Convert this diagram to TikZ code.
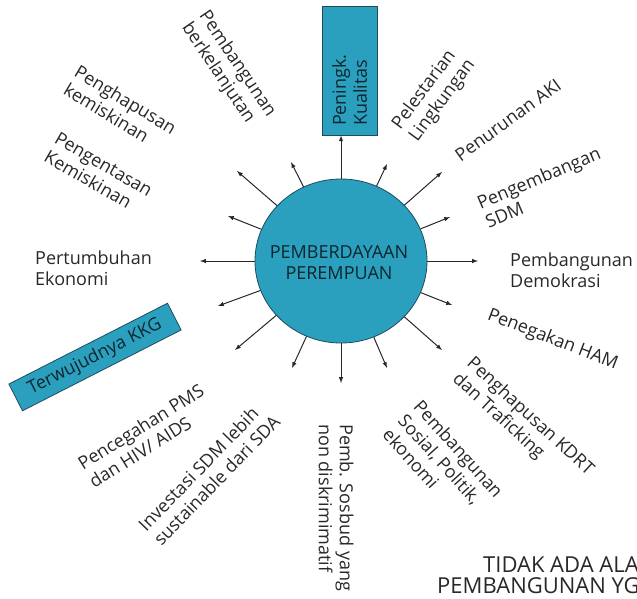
\documentclass[tikz,border=0pt]{standalone}
\usepackage{fontspec}
\setmainfont{Open Sans}
\usetikzlibrary{shapes.geometric}
\definecolor{tosca}{RGB}{43,160,190}
\definecolor{tepi}{RGB}{30,75,95}
\definecolor{tinta}{RGB}{40,40,40}

\begin{document}
\begin{tikzpicture}[x=1pt,y=-1pt,
    lbl/.style={text=tinta, inner sep=0pt, align=left, anchor=west,
      font=\fontsize{18}{21}\selectfont},
    arr/.style={-latex, draw=tinta, line width=1pt},
    kotak/.style={draw=tepi, fill=tosca, line width=0.8pt}]
\useasboundingbox (0,0) rectangle (637,599);
\clip (0,0) rectangle (637,599);

% pusat
\node[ellipse, kotak, minimum width=172pt, minimum height=164pt] (pp) at (341,261) {};
\node[align=center, text=tepi!50!black, font=\fontsize{18}{21}\selectfont] (ppt) at (339,263) {PEMBERDAYAAN\\PEREMPUAN};

% kotak atas
\node[kotak, rotate=90, minimum width=129pt, minimum height=55pt, text width=111pt,
  inner xsep=9pt, inner ysep=3pt, align=left, text=tepi!50!black,
  font=\fontsize{18}{21}\selectfont] (pk) at (349.5,70.5) {Peningk.\\Kualitas};
\draw[arr] (pp.north) -- (pp.north |- pk.west);

% kotak kiri
\node[kotak, rotate=27, minimum width=178pt, minimum height=30pt, inner sep=2pt,
  text=tepi!50!black, font=\fontsize{18}{21}\selectfont] (kkg) at (95,357) {Terwujudnya KKG};

% ujung panah
\coordinate (t1) at (387,164);
\coordinate (t2) at (442,172);
\coordinate (t3) at (450,217);
\coordinate (t4) at (478,261);
\coordinate (t5) at (452,305);
\coordinate (t6) at (442,350);
\coordinate (t7) at (387,368);
\coordinate (t8) at (341,383);
\coordinate (t9) at (292,368);
\coordinate (t10) at (235,350);
\coordinate (t11) at (218,306);
\coordinate (t12) at (200,261);
\coordinate (t13) at (228,216);
\coordinate (t14) at (237,171);
\coordinate (t15) at (291,162);

\draw[arr] (pp) -- (t1);
\draw[arr] (pp) -- (t2);
\draw[arr] (pp) -- (t3);
\draw[arr] (pp) -- (t4);
\draw[arr] (pp) -- (t5);
\draw[arr] (pp) -- (t6);
\draw[arr] (pp) -- (t7);
\draw[arr] (pp) -- (t8);
\draw[arr] (pp) -- (t9);
\draw[arr] (pp) -- (t10);
\draw[arr] (pp) -- (t11);
\draw[arr] (pp) -- (t12);
\draw[arr] (pp) -- (t13);
\draw[arr] (pp) -- (t14);
\draw[arr] (pp) -- (t15);

% label kiri atas
\node[lbl, rotate=-56] (bkl) at (194,19) {Pembangunan\\berkelanjutan};
\node[lbl, rotate=-31] (hpk) at (71,79) {Penghapusan\\kemiskinan};
\node[lbl, rotate=-30] (etk) at (51,146) {Pengentasan\\Kemiskinan};
\node[lbl] (tbe) at (35,268) {Pertumbuhan\\Ekonomi};

% label bawah
\node[lbl, rotate=32] (pms) at (85,474) {Pencegahan PMS\\dan HIV/ AIDS};
\node[lbl, rotate=46] (inv) at (149,535) {Investasi SDM lebih\\sustainable dari SDA};
\node[lbl, rotate=-90] (ssb) at (336,424) {Pemb. Sosbud yang\\non diskrimimatif};
\node[lbl, rotate=-48] (spe) at (402,417) {Pembangunan\\Sosial, Politik,\\ekonomi};
\node[lbl, rotate=-42.5] (kdr) at (462,369) {Penghapusan KDRT\\dan Traficking};

% label kanan
\node[lbl, rotate=-21] (ham) at (488,315) {Penegakan HAM};
\node[lbl] (dem) at (510,270) {Pembangunan\\Demokrasi};
\node[lbl, rotate=23] (sdm) at (482,213) {Pengembangan\\SDM};
\node[lbl, rotate=36] (aki) at (457,157) {Penurunan AKI};
\node[lbl, rotate=53.5] (lst) at (405,134) {Pelestarian\\Lingkungan};

% teks pojok
\node[lbl, anchor=base west, font=\fontsize{22}{22}\selectfont] (tdk) at (483,572) {TIDAK ADA ALA};
\node[lbl, anchor=base west, font=\fontsize{22}{22}\selectfont] (pyg) at (437,593) {PEMBANGUNAN YG};

\end{tikzpicture}
\end{document}
